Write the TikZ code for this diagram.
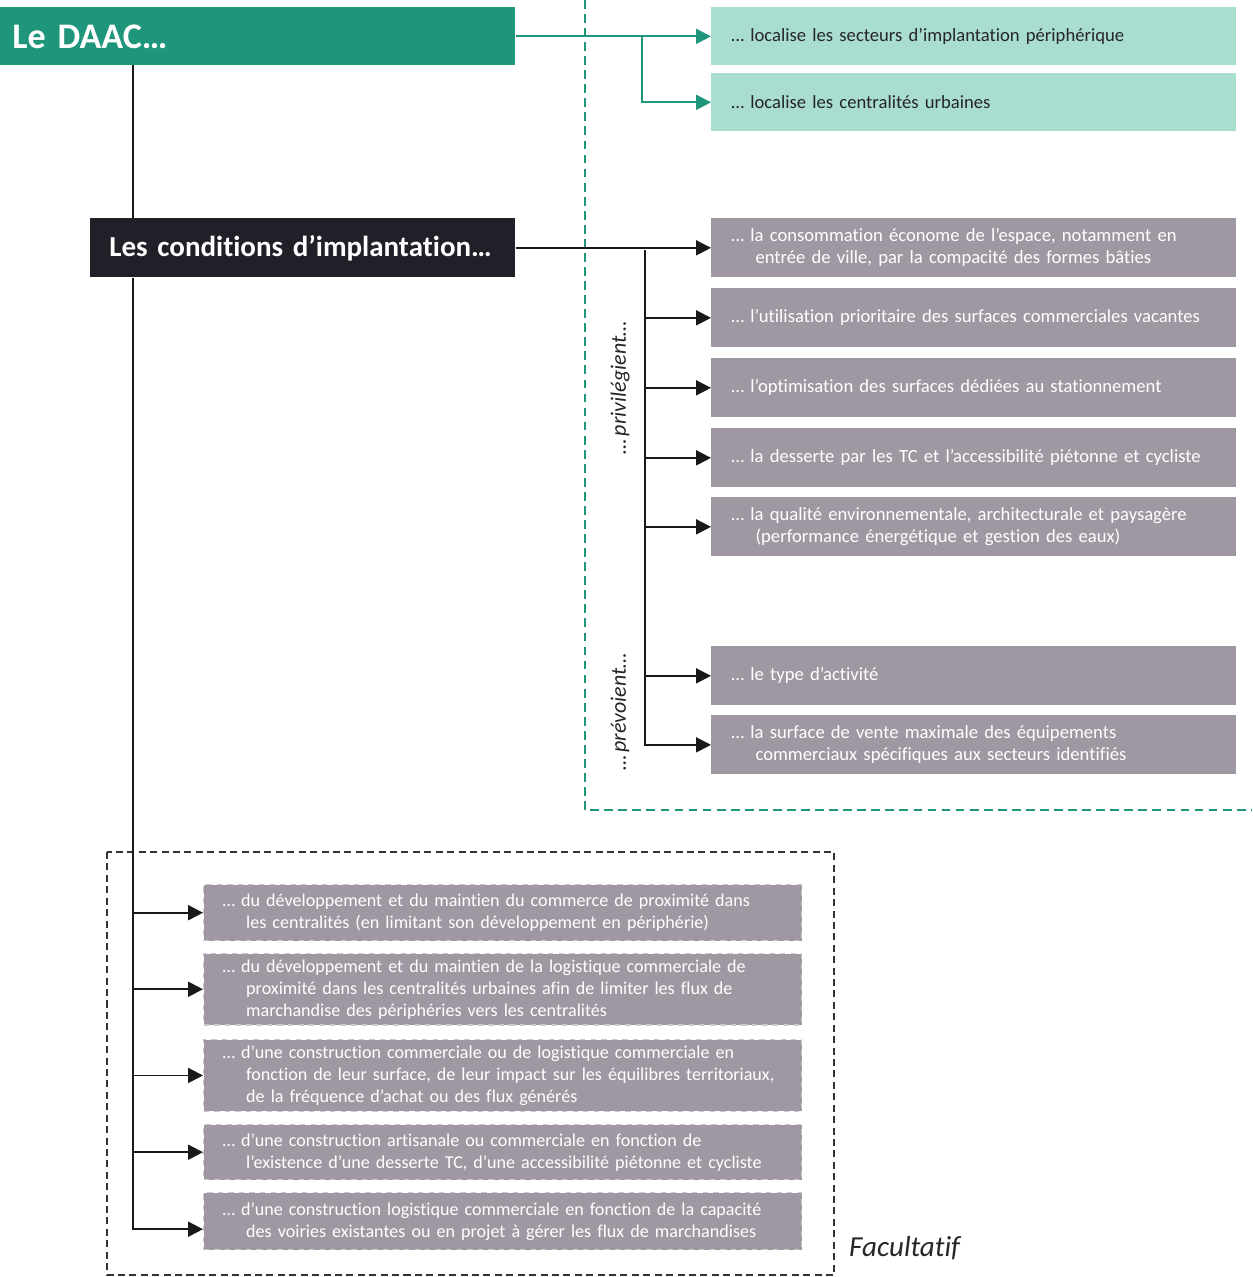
\documentclass[tikz,border=0pt]{standalone}
\usepackage{fontspec}
\setmainfont{Carlito}[WordSpace=0.7,Ligatures=NoCommon]
\usepackage{tikz}
\usetikzlibrary{arrows.meta}
\definecolor{daacgreen}{HTML}{1F967B}
\definecolor{lightgreen}{HTML}{A8DDD0}
\definecolor{darkbox}{HTML}{231F28}
\definecolor{greybox}{HTML}{9F98A2}
\definecolor{greyedge}{HTML}{CBC6CD}
\hyphenpenalty=10000
\begin{document}
\begin{tikzpicture}[x=0.02cm,y=-0.02cm,
  line/.style={line width=1.1pt,draw=black!90},
  arr/.style={line,-{Triangle[length=8.5pt,width=8.5pt]}},
  garr/.style={line width=1.1pt,draw=daacgreen,-{Triangle[length=8.5pt,width=8.5pt]}},
  head/.style={anchor=north west,fill=daacgreen,text=white,font=\bfseries\fontsize{20.5}{23}\selectfont,minimum width=10.3cm,minimum height=1.16cm,inner xsep=0.24cm,text width=9.82cm,align=left},
  cond/.style={anchor=north west,fill=darkbox,text=white,font=\bfseries\fontsize{16.5}{19}\selectfont,minimum width=8.5cm,minimum height=1.18cm,inner xsep=0.38cm,text width=7.74cm,align=left},
  lgbox/.style={anchor=north west,fill=lightgreen,text=black!85,font=\fontsize{10.6}{12.5}\selectfont,minimum width=10.5cm,minimum height=1.16cm,inner xsep=0.4cm,text width=9.7cm,align=left},
  gbox/.style={anchor=north west,fill=greybox,text=white,font=\fontsize{10.6}{12.5}\selectfont,minimum width=10.5cm,minimum height=1.18cm,inner xsep=0.4cm,text width=9.7cm,align=left},
  fbox/.style={anchor=north west,fill=greybox,draw=greyedge,dashed,line width=0.8pt,text=white,font=\fontsize{10.3}{12.5}\selectfont,minimum width=11.96cm,inner xsep=0.38cm,text width=11.2cm,align=left},
  verb/.style={rotate=90,font=\itshape\fontsize{12.5}{14}\selectfont,text=black!85}]
\useasboundingbox (0,0) rectangle (1252,1277);
\draw[daacgreen,line width=0.9pt,dash pattern=on 5pt off 3pt] (585,0) |- (1252,810);
\draw[black!80,line width=0.8pt,dash pattern=on 4pt off 2.5pt] (107,852) rectangle (834,1275);
\draw (0,7) node[head](daac) {Le DAAC…};
\draw (711,7) node[lgbox](sect) {… localise les secteurs d’implantation périphérique};
\draw (711,73) node[lgbox](cent) {… localise les centralités urbaines};
\draw (90,218) node[cond](cond) {Les conditions d’implantation…};
\draw (711,218) node[gbox](p1) {… la consommation économe de l’espace, notamment en\\\hspace*{1.3em}entrée de ville, par la compacité des formes bâties};
\draw (711,288) node[gbox](p2) {… l’utilisation prioritaire des surfaces commerciales vacantes};
\draw (711,358) node[gbox](p3) {… l’optimisation des surfaces dédiées au stationnement};
\draw (711,428) node[gbox](p4) {… la desserte par les TC et l’accessibilité piétonne et cycliste};
\draw (711,497) node[gbox](p5) {… la qualité environnementale, architecturale et paysagère\\\hspace*{1.3em}(performance énergétique et gestion des eaux)};
\draw (711,646) node[gbox](p6) {… le type d’activité};
\draw (711,715) node[gbox](p7) {… la surface de vente maximale des équipements\\\hspace*{1.3em}commerciaux spécifiques aux secteurs identifiés};
\draw (203,884) node[fbox,minimum height=1.12cm](f1) {… du développement et du maintien du commerce de proximité dans\\\hspace*{1.3em}les centralités (en limitant son développement en périphérie)};
\draw (203,953) node[fbox,minimum height=1.42cm](f2) {… du développement et du maintien de la logistique commerciale de\\\hspace*{1.3em}proximité dans les centralités urbaines afin de limiter les flux de\\\hspace*{1.3em}marchandise des périphéries vers les centralités};
\draw (203,1039) node[fbox,minimum height=1.4cm](f3) {… d’une construction commerciale ou de logistique commerciale en\\\hspace*{1.3em}fonction de leur surface, de leur impact sur les équilibres territoriaux,\\\hspace*{1.3em}de la fréquence d’achat ou des flux générés};
\draw (203,1124) node[fbox,minimum height=1.1cm](f4) {… d’une construction artisanale ou commerciale en fonction de\\\hspace*{1.3em}l’existence d’une desserte TC, d’une accessibilité piétonne et cycliste};
\draw (203,1192) node[fbox,minimum height=1.14cm](f5) {… d’une construction logistique commerciale en fonction de la capacité\\\hspace*{1.3em}des voiries existantes ou en projet à gérer les flux de marchandises};
\draw (620,388) node[verb](priv) {… privilégient…};
\draw (620,712) node[verb](prev) {… prévoient…};
\draw (843,1248) node[anchor=west,font=\itshape\fontsize{16.5}{18}\selectfont,text=black!85](facu) {Facultatif};
\coordinate (gb) at (642,37);
\coordinate (m0) at (133,65);
\coordinate (v0) at (645,250);
\draw[garr] (daac.east) -- (sect.west);
\draw[garr] (gb) |- (cent.west);
\draw[line] (m0) -- (m0 |- cond.north);
\draw[arr] (m0 |- cond.south) |- ([yshift=-0.16cm]f5.west);
\draw[arr] (m0 |- f1.west) -- (f1.west);
\draw[arr] (m0 |- f2.west) -- (f2.west);
\draw[arr] (m0 |- f3.west) -- (f3.west);
\draw[arr] (m0 |- f4.west) -- (f4.west);
\draw[arr] (cond.east) -- (p1.west);
\draw[arr] (v0) |- (p7.west);
\draw[arr] (v0 |- p2.west) -- (p2.west);
\draw[arr] (v0 |- p3.west) -- (p3.west);
\draw[arr] (v0 |- p4.west) -- (p4.west);
\draw[arr] (v0 |- p5.west) -- (p5.west);
\draw[arr] (v0 |- p6.west) -- (p6.west);
\end{tikzpicture}
\end{document}
